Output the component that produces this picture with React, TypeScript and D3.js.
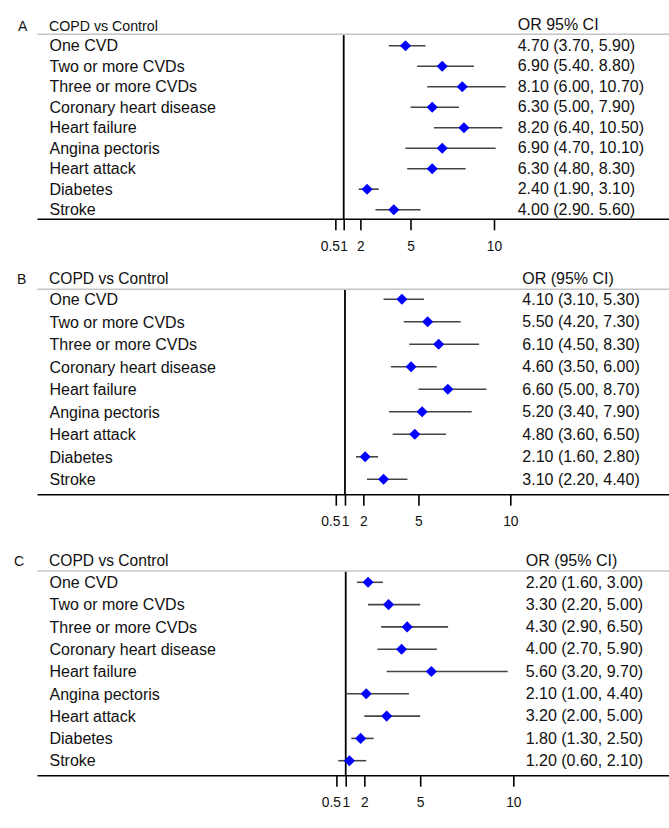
import { useEffect, useRef } from 'react'
import * as d3 from 'd3'

// row categories shared by the three panels
const categories = [
  'One CVD',
  'Two or more CVDs',
  'Three or more CVDs',
  'Coronary heart disease',
  'Heart failure',
  'Angina pectoris',
  'Heart attack',
  'Diabetes',
  'Stroke'
]

const tickValues = [0.5, 1, 2, 5, 10]
const tickLabels = ['0.5', '1', '2', '5', '10']

// Panel A
const orA = [4.7, 6.9, 8.1, 6.3, 8.2, 6.9, 6.3, 2.4, 4.0]
const lowA = [3.7, 5.4, 6.0, 5.0, 6.4, 4.7, 4.8, 1.9, 2.9]
const highA = [5.9, 8.8, 10.7, 7.9, 10.5, 10.1, 8.3, 3.1, 5.6]
const ciTextA = [
  '4.70 (3.70, 5.90)',
  '6.90 (5.40. 8.80)',
  '8.10 (6.00, 10.70)',
  '6.30 (5.00, 7.90)',
  '8.20 (6.40, 10.50)',
  '6.90 (4.70, 10.10)',
  '6.30 (4.80, 8.30)',
  '2.40 (1.90, 3.10)',
  '4.00 (2.90. 5.60)'
]

// Panel B
const orB = [4.1, 5.5, 6.1, 4.6, 6.6, 5.2, 4.8, 2.1, 3.1]
const lowB = [3.1, 4.2, 4.5, 3.5, 5.0, 3.4, 3.6, 1.6, 2.2]
const highB = [5.3, 7.3, 8.3, 6.0, 8.7, 7.9, 6.5, 2.8, 4.4]
const ciTextB = [
  '4.10 (3.10, 5.30)',
  '5.50 (4.20, 7.30)',
  '6.10 (4.50, 8.30)',
  '4.60 (3.50, 6.00)',
  '6.60 (5.00, 8.70)',
  '5.20 (3.40, 7.90)',
  '4.80 (3.60, 6.50)',
  '2.10 (1.60, 2.80)',
  '3.10 (2.20, 4.40)'
]

// Panel C
const orC = [2.2, 3.3, 4.3, 4.0, 5.6, 2.1, 3.2, 1.8, 1.2]
const lowC = [1.6, 2.2, 2.9, 2.7, 3.2, 1.0, 2.0, 1.3, 0.6]
const highC = [3.0, 5.0, 6.5, 5.9, 9.7, 4.4, 5.0, 2.5, 2.1]
const ciTextC = [
  '2.20 (1.60, 3.00)',
  '3.30 (2.20, 5.00)',
  '4.30 (2.90, 6.50)',
  '4.00 (2.70, 5.90)',
  '5.60 (3.20, 9.70)',
  '2.10 (1.00, 4.40)',
  '3.20 (2.00, 5.00)',
  '1.80 (1.30, 2.50)',
  '1.20 (0.60, 2.10)'
]

const WIDTH = 669
const HEIGHT = 828
const FONT = 'Arial, "Liberation Sans", sans-serif'

interface Panel {
  letter: string
  title: string
  orTitle: string
  or: number[]
  low: number[]
  high: number[]
  ciText: string[]
  letterX: number
  titleSize: number
  titleY: number
  orTitleY: number
  ruleY: number
  firstRow: number
  lastRow: number
  axisY: number
  xStart: number
  xEnd: number
  textX: number
}

const panels: Panel[] = [
  {
    letter: 'A', title: 'COPD vs Control', orTitle: 'OR 95% CI',
    or: orA, low: lowA, high: highA, ciText: ciTextA,
    letterX: 18, titleSize: 14.2, titleY: 30.7, orTitleY: 29.6, ruleY: 34.3,
    firstRow: 45.7, lastRow: 209.7, axisY: 219.3,
    xStart: 327, xEnd: 494, textX: 517.7
  },
  {
    letter: 'B', title: 'COPD vs Control', orTitle: 'OR (95% CI)',
    or: orB, low: lowB, high: highB, ciText: ciTextB,
    letterX: 17, titleSize: 15.6, titleY: 284, orTitleY: 283.5, ruleY: 289.3,
    firstRow: 299.3, lastRow: 479.3, axisY: 494.7,
    xStart: 326.6, xEnd: 510.3, textX: 522.3
  },
  {
    letter: 'C', title: 'COPD vs Control', orTitle: 'OR (95% CI)',
    or: orC, low: lowC, high: highC, ciText: ciTextC,
    letterX: 14, titleSize: 15.6, titleY: 565.7, orTitleY: 566, ruleY: 571,
    firstRow: 582.3, lastRow: 760.7, axisY: 775.7,
    xStart: 327.1, xEnd: 513.3, textX: 525.7
  }
]

function ForestPlots() {
  const svgRef = useRef<SVGSVGElement>(null)

  useEffect(() => {
    if (!svgRef.current) return
    const root = d3.select(svgRef.current)
    root.selectAll('*').remove()
    root.attr('width', WIDTH).attr('height', HEIGHT)

    const diamond = d3.symbol(d3.symbolSquare, 62)()

    panels.forEach((p) => {
      const g = root.append('g').style('font-family', FONT)

      const x = d3.scaleLinear().domain([0, 10]).range([p.xStart, p.xEnd])
      const y = d3.scalePoint<string>()
        .domain(categories)
        .range([p.firstRow, p.lastRow])

      const rows = categories.map((name, i) => ({
        name, or: p.or[i], low: p.low[i], high: p.high[i], text: p.ciText[i]
      }))

      // panel letter and headers
      g.append('text')
        .attr('x', p.letterX).attr('y', p.titleY)
        .style('font-size', '14px').attr('fill', '#111')
        .text(p.letter)

      g.append('text')
        .attr('x', 49).attr('y', p.titleY)
        .style('font-size', `${p.titleSize}px`).attr('fill', '#111')
        .text(p.title)

      g.append('text')
        .attr('x', p.textX).attr('y', p.orTitleY)
        .style('font-size', '16px').attr('fill', '#111')
        .text(p.orTitle)

      g.append('line')
        .attr('x1', 37.3).attr('x2', WIDTH)
        .attr('y1', p.ruleY).attr('y2', p.ruleY)
        .attr('stroke', '#c4c4c4').attr('stroke-width', 1.6)

      // row labels
      g.selectAll('text.label')
        .data(rows)
        .enter()
        .append('text')
        .attr('class', 'label')
        .attr('x', 49.5)
        .attr('y', (d) => y(d.name)!)
        .attr('dy', '0.36em')
        .style('font-size', '16px')
        .attr('fill', '#111')
        .text((d) => d.name)

      // OR text
      g.selectAll('text.ci')
        .data(rows)
        .enter()
        .append('text')
        .attr('class', 'ci')
        .attr('x', p.textX)
        .attr('y', (d) => y(d.name)!)
        .attr('dy', '0.33em')
        .style('font-size', '16px')
        .attr('fill', '#111')
        .text((d) => d.text)

      // reference line at OR = 1
      g.append('line')
        .attr('x1', x(1)).attr('x2', x(1))
        .attr('y1', p.ruleY + 0.8).attr('y2', p.axisY)
        .attr('stroke', '#000').attr('stroke-width', 1.8)

      // confidence intervals
      g.selectAll('line.ci-line')
        .data(rows)
        .enter()
        .append('line')
        .attr('class', 'ci-line')
        .attr('x1', (d) => x(d.low))
        .attr('x2', (d) => x(d.high))
        .attr('y1', (d) => y(d.name)!)
        .attr('y2', (d) => y(d.name)!)
        .attr('stroke', '#454545')
        .attr('stroke-width', 1.6)

      // point estimates
      g.selectAll('path.pt')
        .data(rows)
        .enter()
        .append('path')
        .attr('class', 'pt')
        .attr('d', diamond)
        .attr('transform', (d) => `translate(${x(d.or)},${y(d.name)}) rotate(45)`)
        .attr('fill', '#0000ff')

      // x axis
      g.append('line')
        .attr('x1', 37.5).attr('x2', WIDTH)
        .attr('y1', p.axisY).attr('y2', p.axisY)
        .attr('stroke', '#000').attr('stroke-width', 1.6)

      const axis = d3.axisBottom(x)
        .tickValues(tickValues)
        .tickFormat((_, i) => tickLabels[i])
        .tickSize(11)
        .tickPadding(11)

      const ax = g.append('g')
        .attr('transform', `translate(0,${p.axisY})`)
        .call(axis)
      ax.select('.domain').remove()
      ax.selectAll('line').attr('stroke', '#000').attr('stroke-width', 1.6)
      ax.selectAll('text')
        .attr('fill', '#111')
        .style('font-size', '13.8px')
        .style('font-family', FONT)
        .attr('dx', (_, i) => (i === 0 ? -5.5 : 0))
    })
  }, [])

  return <svg ref={svgRef} />
}

export default function App() {
  return (
    <div style={{ position: 'absolute', left: 0, top: 0, width: WIDTH, height: HEIGHT, background: '#fff' }}>
      <ForestPlots />
    </div>
  )
}
